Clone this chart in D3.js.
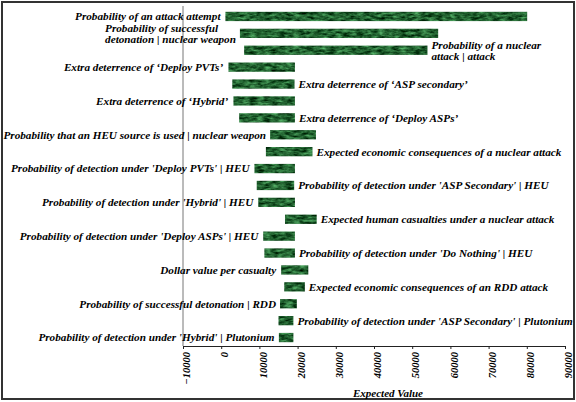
<!DOCTYPE html>
<html>
<head>
<meta charset="utf-8">
<script src="https://cdn.jsdelivr.net/npm/d3@7"></script>
<style>
  html, body { margin: 0; padding: 0; background: #fff; }
  svg { display: block; }
</style>
</head>
<body>
<svg id="chart" width="576" height="402"></svg>
<script>
const categories = [
  "Probability of an attack attempt",
  "Probability of successful\ndetonation | nuclear weapon",
  "Probability of a nuclear\nattack | attack",
  "Extra deterrence of \u2018Deploy PVTs\u2019",
  "Extra deterrence of \u2018ASP secondary\u2019",
  "Extra deterrence of \u2018Hybrid\u2019",
  "Extra deterrence of \u2018Deploy ASPs\u2019",
  "Probability that an HEU source is used | nuclear weapon",
  "Expected economic consequences of a nuclear attack",
  "Probability of detection under 'Deploy PVTs' | HEU",
  "Probability of detection under 'ASP Secondary' | HEU",
  "Probability of detection under 'Hybrid' | HEU",
  "Expected human casualties under a nuclear attack",
  "Probability of detection under 'Deploy ASPs' | HEU",
  "Probability of detection under 'Do Nothing' | HEU",
  "Dollar value per casualty",
  "Expected economic consequences of an RDD attack",
  "Probability of successful detonation | RDD",
  "Probability of detection under 'ASP Secondary' | Plutonium",
  "Probability of detection under 'Hybrid' | Plutonium"
];
const lowValues  = [1100, 4900, 6000, 1900, 2900, 3200, 4700, 12800, 11700, 8700, 9300, 9700, 16700, 11000, 11300, 15700, 16500, 15400, 15000, 15100];
const highValues = [80100, 56800, 54000, 19300, 19200, 19300, 19300, 24800, 23900, 19300, 19100, 19300, 25000, 19300, 19300, 22800, 21900, 19800, 18900, 18900];
const tickValues = [-10000, 0, 10000, 20000, 30000, 40000, 50000, 60000, 70000, 80000, 90000];
const axisTitle = "Expected Value";

const FONT = "'Liberation Serif', 'Times New Roman', Times, serif";
const svg = d3.select("#chart");

// marble texture filter
const defs = svg.append("defs");
const f = defs.append("filter").attr("id", "marble")
  .attr("x", 0).attr("y", 0).attr("width", 1).attr("height", 1)
  .attr("color-interpolation-filters", "sRGB");
f.append("feTurbulence").attr("type", "fractalNoise")
  .attr("baseFrequency", "0.14 0.4").attr("numOctaves", 3).attr("seed", 4).attr("result", "noise");
f.append("feColorMatrix").attr("in", "noise").attr("type", "matrix")
  .attr("values", "0.55 0 0 0 -0.14  0.85 0 0 0 -0.04  0.6 0 0 0 -0.11  0 0 0 0 1")
  .attr("result", "col");
f.append("feComposite").attr("in", "col").attr("in2", "SourceGraphic").attr("operator", "in");

// frame
svg.append("rect").attr("x", 2).attr("y", 2).attr("width", 572).attr("height", 397)
  .attr("fill", "#fff").attr("stroke", "#333").attr("stroke-width", 2);

const x = d3.scaleLinear().domain([-10000, 90000]).range([183, 565]);
const y = d3.scaleBand().domain(categories).range([8, 346]).paddingInner(0.45).paddingOuter(0.225);

// y axis line
svg.append("line").attr("x1", 183).attr("x2", 183).attr("y1", 6).attr("y2", 346)
  .attr("stroke", "#777").attr("stroke-width", 1);

// bars
svg.append("g").selectAll("rect").data(categories).join("rect")
  .attr("x", (d, i) => x(lowValues[i]))
  .attr("y", d => y(d))
  .attr("width", (d, i) => x(highValues[i]) - x(lowValues[i]))
  .attr("height", y.bandwidth())
  .attr("fill", "#1f5a30")
  .attr("filter", "url(#marble)");

// labels
const fs = 11.2, lh = 11;
const lg = svg.append("g")
  .style("font-family", FONT).style("font-weight", "bold").style("font-style", "italic")
  .style("font-size", fs + "px").style("fill", "#000");
categories.forEach((c, i) => {
  const left = (i === 0 || i % 2 === 1);
  const lines = c.split("\n");
  const cy = y(c) + y.bandwidth() / 2;
  const t = lg.append("text");
  lines.forEach((ln, k) => {
    t.append("tspan").attr("x", 0)
      .attr("y", cy + (k - (lines.length - 1) / 2) * lh)
      .attr("dy", "0.35em").text(ln);
  });
  if (left) {
    const w = t.node().getBBox().width;
    const x0 = x(lowValues[i]) - 4 - w;
    t.selectAll("tspan").attr("x", x0);
  } else {
    t.selectAll("tspan").attr("x", x(highValues[i]) + 4);
  }
});

// x axis
const ax = svg.append("g").attr("transform", "translate(0,346)")
  .call(d3.axisBottom(x).tickValues(tickValues).tickFormat(d3.format("d")).tickSize(3).tickSizeOuter(0));
ax.attr("font-family", null).attr("font-size", null);
ax.select(".domain").attr("stroke", "#222");
ax.selectAll(".tick line").attr("stroke", "#222");
ax.selectAll(".tick text")
  .style("font-family", FONT).style("font-weight", "bold").style("font-style", "italic")
  .style("font-size", "10.5px").style("fill", "#000")
  .attr("y", null)
  .attr("text-anchor", "end")
  .attr("transform", "translate(3,6) rotate(-90)")
  .attr("x", 0)
  .attr("dy", "0.35em");

svg.append("text").attr("x", 388).attr("y", 397).attr("text-anchor", "middle")
  .style("font-family", FONT).style("font-weight", "bold").style("font-style", "italic")
  .style("font-size", "11px").style("fill", "#000").text(axisTitle);
</script>
</body>
</html>
